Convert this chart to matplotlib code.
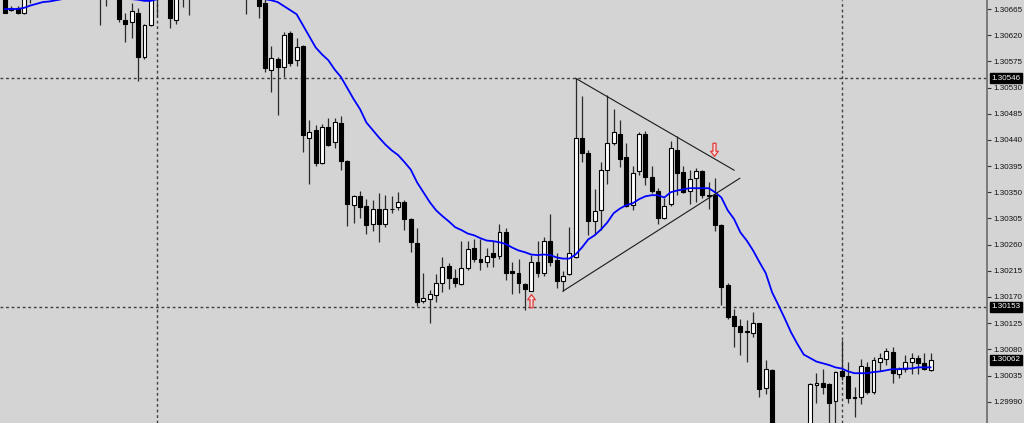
import numpy as np
import matplotlib
matplotlib.use("Agg")
import matplotlib.pyplot as plt
from matplotlib.path import Path
import matplotlib.transforms as mtransforms

# prices in points (1e-5), one entry per bar
opens = [130689, 130663, 130666, 130659, 130697, 130723, 130748, 130740, 130765, 130757,
         130774, 130762, 130748, 130758, 130745, 130732, 130701, 130714, 130694, 130646,
         130642, 130659, 130582, 130637, 130689, 130706, 130714, 130646, 130697, 130714,
         130701, 130732, 130757, 130745, 130769, 130755, 130742, 130728, 130714, 130701,
         130694, 130675, 130560, 130579, 130565, 130623, 130577, 130601, 130444, 130457,
         130400, 130463, 130436, 130469, 130403, 130328, 130343, 130326, 130295, 130321,
         130295, 130322, 130324, 130334, 130304, 130262, 130163, 130166, 130173, 130194,
         130223, 130202, 130192, 130219, 130254, 130235, 130231, 130245, 130240, 130281,
         130214, 130212, 130192, 130181, 130230, 130212, 130267, 130233, 130197, 130209,
         130238, 130443, 130417, 130300, 130319, 130389, 130434, 130450, 130410, 130328,
         130386, 130451, 130376, 130352, 130305, 130329, 130422, 130384, 130352, 130374,
         130386, 130345, 130345, 130293, 130190, 130137, 130120, 130111, 130108, 130125,
         130013, 130044, 129915, 129890, 129905, 129872, 129898, 129924, 130018, 130022,
         130020, 129992, 130042, 130035, 129998, 129998, 130049, 130006, 130059, 130063,
         130075, 130037, 130046, 130058, 130065, 130056, 130044]
highs = [130694, 130670, 130671, 130711, 130732, 130757, 130766, 130774, 130780, 130786,
         130786, 130774, 130769, 130766, 130756, 130740, 130723, 130725, 130701, 130659,
         130675, 130666, 130639, 130697, 130714, 130735, 130728, 130706, 130723, 130728,
         130740, 130766, 130774, 130780, 130783, 130766, 130752, 130738, 130725, 130711,
         130701, 130683, 130601, 130582, 130625, 130627, 130615, 130603, 130475, 130465,
         130467, 130477, 130477, 130481, 130405, 130345, 130352, 130338, 130336, 130348,
         130345, 130343, 130350, 130336, 130305, 130288, 130211, 130182, 130209, 130238,
         130228, 130218, 130267, 130267, 130269, 130269, 130255, 130267, 130295, 130288,
         130230, 130235, 130194, 130242, 130267, 130273, 130312, 130245, 130214, 130290,
         130546, 130515, 130422, 130355, 130402, 130517, 130493, 130474, 130434, 130396,
         130453, 130455, 130396, 130357, 130341, 130438, 130446, 130396, 130388, 130391,
         130388, 130367, 130374, 130295, 130194, 130149, 130133, 130130, 130144, 130126,
         130061, 130046, 129935, 129925, 129922, 129915, 129937, 130022, 130039, 130046,
         130023, 130042, 130096, 130059, 130016, 130063, 130058, 130066, 130073, 130082,
         130084, 130049, 130071, 130073, 130070, 130073, 130073]
lows = [130658, 130661, 130656, 130656, 130675, 130711, 130728, 130732, 130746, 130749,
        130752, 130740, 130731, 130735, 130714, 130637, 130671, 130683, 130642, 130608,
        130615, 130542, 130579, 130635, 130651, 130694, 130632, 130640, 130668, 130654,
        130689, 130718, 130731, 130735, 130745, 130728, 130714, 130697, 130656, 130683,
        130649, 130556, 130522, 130482, 130549, 130567, 130567, 130419, 130365, 130396,
        130398, 130429, 130426, 130389, 130292, 130297, 130305, 130278, 130283, 130264,
        130290, 130314, 130319, 130285, 130247, 130154, 130159, 130126, 130161, 130178,
        130183, 130187, 130190, 130216, 130230, 130216, 130221, 130221, 130235, 130199,
        130175, 130176, 130147, 130180, 130204, 130206, 130224, 130185, 130180, 130207,
        130237, 130402, 130276, 130279, 130285, 130365, 130432, 130393, 130324, 130319,
        130379, 130362, 130348, 130295, 130304, 130326, 130345, 130348, 130329, 130333,
        130340, 130322, 130283, 130156, 130132, 130084, 130070, 130058, 130101, 129998,
        130004, 129898, 129865, 129872, 129855, 129850, 129880, 129915, 129987, 130004,
        129941, 129941, 130027, 129987, 129963, 129986, 130004, 130004, 130042, 130053,
        130022, 130030, 130041, 130037, 130037, 130044, 130042]
closes = [130659, 130666, 130659, 130706, 130723, 130748, 130740, 130765, 130757, 130774,
          130762, 130748, 130758, 130745, 130731, 130701, 130714, 130694, 130647, 130640,
          130661, 130582, 130637, 130689, 130706, 130723, 130649, 130697, 130714, 130701,
          130732, 130757, 130745, 130769, 130755, 130742, 130728, 130714, 130701, 130694,
          130671, 130563, 130580, 130565, 130620, 130573, 130599, 130448, 130453, 130400,
          130463, 130432, 130470, 130403, 130329, 130343, 130324, 130293, 130322, 130295,
          130322, 130321, 130333, 130304, 130264, 130161, 130168, 130175, 130194, 130221,
          130202, 130194, 130219, 130252, 130236, 130230, 130240, 130238, 130281, 130212,
          130212, 130194, 130183, 130230, 130211, 130266, 130230, 130197, 130206, 130245,
          130444, 130417, 130300, 130317, 130389, 130434, 130453, 130408, 130326, 130383,
          130450, 130377, 130352, 130305, 130326, 130426, 130383, 130350, 130372, 130386,
          130345, 130343, 130293, 130187, 130135, 130120, 130109, 130109, 130125, 130011,
          130047, 129915, 129890, 129905, 129872, 129898, 129924, 130020, 130023, 130015,
          129987, 130041, 130034, 129996, 129997, 130051, 130006, 130061, 130065, 130077,
          130039, 130047, 130058, 130065, 130056, 130046, 130062]
ma_line = [130665, 130665, 130665, 130667, 130671, 130674, 130677, 130678, 130680, 130682,
           130683, 130685, 130685, 130687, 130687, 130687, 130685, 130685, 130683, 130683,
           130682, 130681, 130679, 130679, 130682, 130685, 130689, 130694, 130697, 130701,
           130702, 130704, 130704, 130702, 130701, 130697, 130694, 130690, 130687, 130685,
           130683, 130682, 130680, 130677, 130670, 130663, 130656, 130637, 130618, 130599,
           130587, 130577, 130561, 130548, 130529, 130510, 130493, 130470, 130457, 130444,
           130432, 130422, 130414, 130402, 130389, 130367, 130350, 130333, 130319, 130309,
           130300, 130290, 130285, 130279, 130276, 130271, 130267, 130266, 130264, 130261,
           130255, 130250, 130247, 130243, 130242, 130243, 130242, 130238, 130236, 130236,
           130243, 130255, 130269, 130276, 130286, 130298, 130314, 130322, 130328, 130331,
           130338, 130343, 130345, 130345, 130341, 130350, 130353, 130355, 130357, 130357,
           130357, 130357, 130350, 130341, 130319, 130304, 130281, 130267, 130250, 130230,
           130211, 130178, 130156, 130133, 130109, 130089, 130071, 130065, 130059, 130056,
           130053, 130049, 130047, 130042, 130039, 130039, 130039, 130041, 130042, 130044,
           130046, 130046, 130047, 130047, 130049, 130049, 130049]

tick_prices = [1.30665, 1.30620, 1.30575, 1.30530, 1.30485, 1.30440, 1.30395, 1.30350,
               1.30305, 1.30260, 1.30215, 1.30170, 1.30125, 1.30080, 1.30035, 1.29990]
level_lines = [1.30546, 1.30153]
marked_prices = [1.30546, 1.30153, 1.30062]
separator_bars = [24, 132]

# triangle drawn on the chart: (bar, price) end points
upper_line = [(90.0, 1.30546), (115.0, 1.30388)]
lower_line = [(88.0, 1.30180), (115.9, 1.30374)]
up_arrow = (83.0, 1.30163)
down_arrow = (111.8, 1.30424)

o = np.array(opens) / 1e5
h = np.array(highs) / 1e5
l = np.array(lows) / 1e5
c = np.array(closes) / 1e5
ma = np.array(ma_line) / 1e5
x = np.arange(len(o))

bg = "#d4d4d4"
label_font = ["Liberation Sans", "DejaVu Sans"]
fig = plt.figure(figsize=(10.24, 4.23), dpi=100, facecolor=bg)
ax = fig.add_axes([0, 0, 987 / 1024, 1])
ax.set_facecolor(bg)

# separators and levels
for b in separator_bars:
    ax.axvline(b, color="#404040", lw=1, ls=(0, (2, 2)), zorder=1)
for p in level_lines:
    ax.axhline(p, color="#404040", lw=1, ls=(0, (2, 2)), zorder=1)

# candles
ax.vlines(x, l, h, color="#2a2a2a", lw=0.9, zorder=2)
bull = c >= o
ax.bar(x[bull], (c - o)[bull], bottom=o[bull], width=0.62, color="white",
       edgecolor="black", linewidth=0.8, zorder=3)
ax.bar(x[~bull], (o - c)[~bull], bottom=c[~bull], width=0.62, color="black",
       edgecolor="black", linewidth=0.8, zorder=3)

ax.plot(x, ma, color="#0000ff", lw=1.3, zorder=4)

for seg in (upper_line, lower_line):
    ax.plot([seg[0][0], seg[1][0]], [seg[0][1], seg[1][1]], color="#1a1a1a", lw=0.8, zorder=5)

arrow_up = Path([(0, 1), (0.55, 0.25), (0.22, 0.25), (0.22, -0.9), (-0.22, -0.9),
                 (-0.22, 0.25), (-0.55, 0.25), (0, 1)])
arrow_down = Path([(vx, -vy) for vx, vy in arrow_up.vertices])
ax.plot(*up_arrow, marker=arrow_up, ms=10, mfc="#f3dada", mec="#e03a3a", mew=0.9, zorder=6)
ax.plot(*down_arrow, marker=arrow_down, ms=10, mfc="#f3dada", mec="#e03a3a", mew=0.9, zorder=6)

ax.set_xlim(-0.79, 154.9)
ax.set_ylim(1.299534, 1.306805)

for s in ("left", "top", "bottom"):
    ax.spines[s].set_visible(False)
ax.spines["right"].set_color("#6a6a6a")
ax.spines["right"].set_linewidth(1.2)
ax.set_xticks([])
ax.yaxis.tick_right()
ax.set_yticks(tick_prices)
ax.set_yticklabels([f"{p:.5f}" for p in tick_prices])
ax.tick_params(axis="y", length=3, width=0.8, color="#333333", pad=1.5,
               labelsize=5.8, labelcolor="#111111")
for lab in ax.get_yticklabels():
    lab.set_family(label_font)

trans = mtransforms.blended_transform_factory(ax.transAxes, ax.transData)
for p in marked_prices:
    ax.text(1.0045, p, f"{p:.5f}", transform=trans, ha="left", va="center",
            fontsize=5.8, color="white", family=label_font,
            bbox=dict(boxstyle="square,pad=0.18", fc="black", ec="black"), zorder=10,
            clip_on=False)

fig.savefig("out.png", dpi=100, facecolor=bg)
